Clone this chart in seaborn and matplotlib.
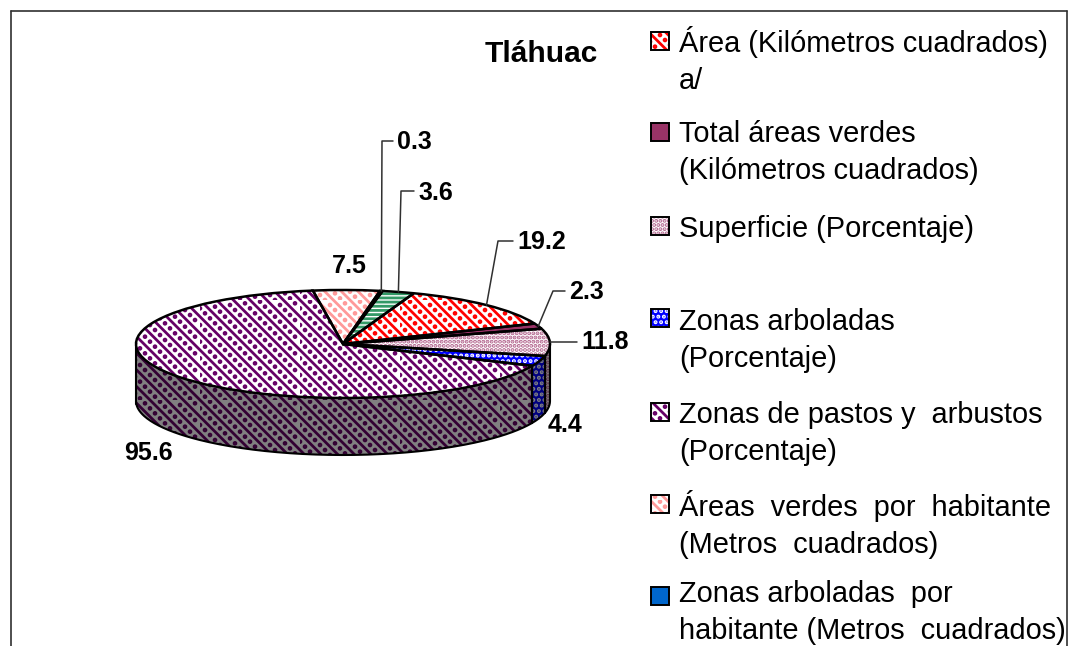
import matplotlib
matplotlib.use('Agg')
import matplotlib.pyplot as plt
from matplotlib import hatch as mhatch
from matplotlib.lines import Line2D
from matplotlib.patches import Rectangle
from matplotlib.path import Path
import numpy as np
import seaborn as sns

labels = [
    'Área (Kilómetros cuadrados)\na/',
    'Total áreas verdes\n(Kilómetros cuadrados)',
    'Superficie (Porcentaje)',
    'Zonas arboladas\n(Porcentaje)',
    'Zonas de pastos y  arbustos\n(Porcentaje)',
    'Áreas  verdes  por  habitante\n(Metros  cuadrados)',
    'Zonas arboladas  por\nhabitante (Metros  cuadrados)',
    'Zonas arboladas por habitante',
]
values = [19.2, 2.3, 11.8, 4.4, 95.6, 7.5, 0.3, 3.6]
colors = ['#FF0000', '#993366', '#B0608A', 'white', '#660066', '#FF9999', '#0066CC', '#339966']
backs = ['white', '#993366', 'white', '#0000FF', 'white', 'white', '#0066CC', 'white']
hatches = ['\\\\.', '', '....', '...', '\\\\.', '\\\\.', '', '----']
side_colors = ['#800000', '#4D1A33', '#5A2A44', '#808080', '#330033', '#804D4D', '#003366', '#1A4D33']
side_backs = ['#808080', '#808080', '#808080', '#000080', '#808080', '#808080', '#808080', '#808080']

W, H = 1068, 646
CX, CY, RX, RY, DEPTH = 343, 344, 207, 54, 57

sns.set_style('white')
plt.rcParams['font.family'] = ['Liberation Sans', 'DejaVu Sans']
plt.rcParams['hatch.linewidth'] = 2.0


class DiagDots(mhatch.SmallFilledCircles):
    # one '.' puts dot rows midway between the '\\' stripes, like the Excel pattern
    def __init__(self, hatch, density):
        super().__init__(hatch, density)
        self.diag = hatch.count('.') == 1
        if self.diag:
            self.rows, self.per_row = int(density), 20
            self.dot = Path.unit_circle()
            self.num_vertices = self.rows * self.per_row * len(self.dot.vertices)

    def set_vertices_and_codes(self, vertices, codes):
        if not self.diag:
            return super().set_vertices_and_codes(vertices, codes)
        n = len(self.dot.vertices)
        k = 0
        for r in range(self.rows):
            c = (r + 0.5) / self.rows
            for i in range(self.per_row):
                x = i / self.per_row
                y = (c - x) % 1
                vertices[k:k + n] = self.dot.vertices * 0.009 + [x, y]
                codes[k:k + n] = self.dot.codes
                k += n


mhatch._hatch_types[mhatch._hatch_types.index(mhatch.SmallFilledCircles)] = DiagDots


def fx(x):
    return x / W


def fy(y):
    return 1 - y / H


fig = plt.figure(figsize=(W / 100, H / 100), dpi=100, facecolor='white')
palette = sns.color_palette(colors)

# full figure axes, one data unit is one pie radius (squashed ellipse)
ax = fig.add_axes([0, 0, 1, 1])
START = 70

angles = START - np.cumsum([0] + values) / sum(values) * 360
for i in range(len(values)):
    # side wall only where the slice faces the front
    a0 = np.radians(angles[i + 1])
    a1 = np.radians(angles[i])
    t = np.linspace(a0, a1, 80)
    t = t[np.sin(t) <= 0]
    if len(t) < 2:
        continue
    t = np.sort(np.where(t > 0, t, t + 2 * np.pi))
    ax.fill_between(np.cos(t), np.sin(t), np.sin(t) - DEPTH / RY, facecolor=side_backs[i],
                    edgecolor=side_colors[i], hatch=hatches[i], linewidth=0, zorder=1)
    ax.plot([np.cos(t[0])] * 2, [np.sin(t[0]), np.sin(t[0]) - DEPTH / RY], color='black', lw=1.5, zorder=2)
    ax.plot([np.cos(t[-1])] * 2, [np.sin(t[-1]), np.sin(t[-1]) - DEPTH / RY], color='black', lw=1.5, zorder=2)
t = np.linspace(np.pi, 2 * np.pi, 200)
ax.plot(np.cos(t), np.sin(t) - DEPTH / RY, color='black', lw=1.5, zorder=2)

wedges, _ = ax.pie(values, startangle=START, counterclock=False, radius=1,
                   colors=backs, wedgeprops={'linewidth': 0})
for w, c, h in zip(wedges, palette, hatches):
    w.set_edgecolor(c)
    if h:
        w.set_hatch(h)
    w.set_zorder(3)
outline, _ = ax.pie(values, startangle=START, counterclock=False, radius=1,
                    wedgeprops={'fill': False, 'edgecolor': 'black', 'linewidth': 1.8})
for w in outline:
    w.set_zorder(4)

ax.set_aspect('auto')
ax.set_xlim(-CX / RX, (W - CX) / RX)
ax.set_ylim((CY - H) / RY, CY / RY)
ax.axis('off')

# chart frame, the bottom edge is cropped in the source image
for xs, ys in [([11, 11], [646, 11]), ([11, 1067], [11, 11]), ([1067, 1067], [11, 646])]:
    fig.add_artist(Line2D([fx(v) for v in xs], [fy(v) for v in ys], color='#303030', lw=1.2))

fig.text(fx(485), fy(54), 'Tláhuac', fontsize=21.5, fontweight='bold', va='center', color='black')

# data labels: index, label x, label y, elbow of the leader line
label_spots = [
    (0, 517, 242, (498, 241)),
    (1, 569, 292, (553, 291)),
    (2, 581, 342, None),
    (3, 548, 425, None),
    (4, 124, 453, None),
    (5, 332, 266, None),
    (6, 397, 142, (382, 141)),
    (7, 418, 193, (401, 191)),
]
for i, x, y, elbow in label_spots:
    fig.text(fx(x), fy(y), f'{values[i]:.1f}', fontsize=18, fontweight='bold', va='center', color='black')
    if i in (3, 4, 5):
        continue
    mid = np.radians((angles[i] + angles[i + 1]) / 2)
    ax_x = CX + RX * np.cos(mid)
    ax_y = CY - RY * np.sin(mid)
    if elbow is None:
        xs, ys = [ax_x, x - 4], [ax_y, ax_y]
    else:
        xs, ys = [ax_x, elbow[0], x - 4], [ax_y, elbow[1], elbow[1]]
    fig.add_artist(Line2D([fx(v) for v in xs], [fy(v) for v in ys], color='#303030', lw=1.1))

# legend keeps the uneven rows of the original, last entry is cropped away
legend_rows = [41, 132, 226, 318, 412, 504, 596]
legend_text_tops = [26, 120, 215, 308, 401, 490, 580]
for row, top, lab, c, b, h in zip(legend_rows, legend_text_tops, labels, palette, backs, hatches):
    fig.add_artist(Rectangle((fx(651), fy(row + 9)), 18 / W, 18 / H, transform=fig.transFigure,
                             facecolor=b, edgecolor=c, hatch=h or None, lw=0))
    fig.add_artist(Rectangle((fx(651), fy(row + 9)), 18 / W, 18 / H, transform=fig.transFigure,
                             fill=False, edgecolor='black', lw=1.4))
    fig.text(fx(679), fy(top), lab, fontsize=20.9, va='top', color='black', linespacing=1.4)

plt.savefig('out.png', dpi=100)
